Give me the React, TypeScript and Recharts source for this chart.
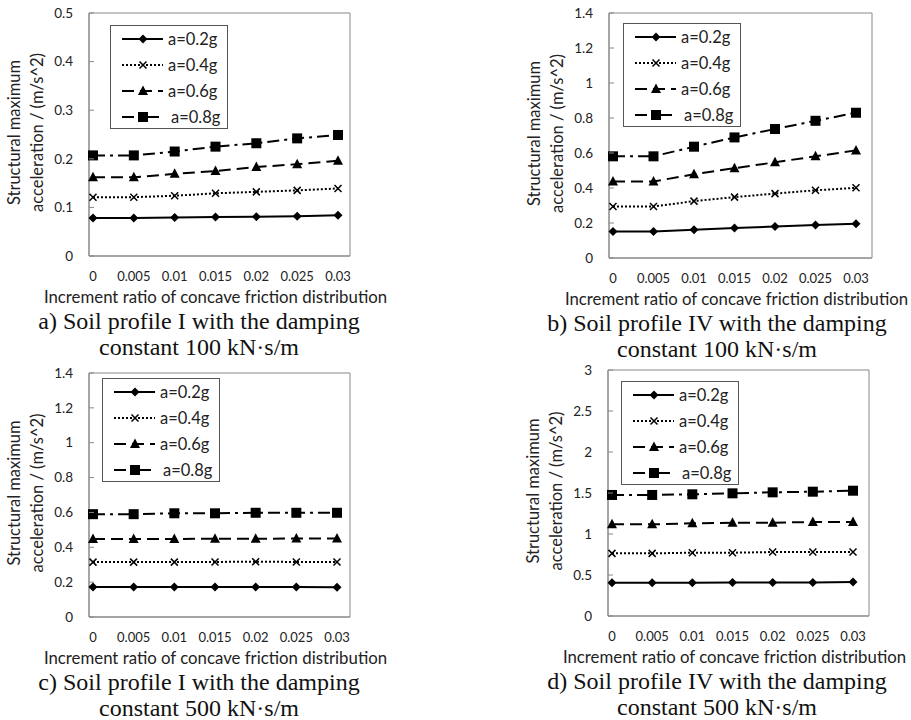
import React from 'react';
import { LineChart, Line, XAxis, YAxis, CartesianGrid, Legend, Label } from 'recharts';

const ratios = [0, 0.005, 0.01, 0.015, 0.02, 0.025, 0.03];
const seriesNames = ['a=0.2g', 'a=0.4g', 'a=0.6g', 'a=0.8g'];

// a) soil profile I, damping 100
const a02 = [0.078, 0.078, 0.079, 0.080, 0.081, 0.082, 0.084];
const a04 = [0.121, 0.121, 0.124, 0.129, 0.132, 0.135, 0.139];
const a06 = [0.162, 0.162, 0.169, 0.175, 0.183, 0.189, 0.196];
const a08 = [0.207, 0.207, 0.215, 0.225, 0.232, 0.242, 0.249];
// b) soil profile IV, damping 100
const b02 = [0.152, 0.152, 0.161, 0.171, 0.180, 0.188, 0.196];
const b04 = [0.294, 0.294, 0.325, 0.348, 0.368, 0.387, 0.401];
const b06 = [0.437, 0.437, 0.479, 0.513, 0.547, 0.581, 0.615];
const b08 = [0.581, 0.581, 0.636, 0.689, 0.737, 0.784, 0.830];
// c) soil profile I, damping 500
const c02 = [0.172, 0.172, 0.172, 0.172, 0.172, 0.172, 0.171];
const c04 = [0.315, 0.315, 0.315, 0.316, 0.317, 0.316, 0.316];
const c06 = [0.448, 0.448, 0.448, 0.449, 0.449, 0.450, 0.450];
const c08 = [0.590, 0.590, 0.595, 0.595, 0.598, 0.598, 0.598];
// d) soil profile IV, damping 500
const d02 = [0.405, 0.405, 0.405, 0.410, 0.410, 0.410, 0.415];
const d04 = [0.764, 0.764, 0.772, 0.772, 0.780, 0.780, 0.780];
const d06 = [1.118, 1.118, 1.130, 1.138, 1.138, 1.146, 1.146];
const d08 = [1.476, 1.476, 1.484, 1.496, 1.508, 1.516, 1.528];

const ticksA = [0, 0.1, 0.2, 0.3, 0.4, 0.5];
const ticksB = [0, 0.2, 0.4, 0.6, 0.8, 1, 1.2, 1.4];
const ticksD = [0, 0.5, 1, 1.5, 2, 2.5, 3];

const SANS = 'Lato, "Open Sans", sans-serif';
const AXIS_GREY = '#888';
const Y_AXIS_W = 89;
const TOP = 13;
const RIGHT_M = 60;

const styles = [
  { dash: undefined, marker: 'diamond' },
  { dash: '2 2', marker: 'cross' },
  { dash: '12 6', marker: 'triangle' },
  { dash: '12 5 3 5', marker: 'square' },
];

function Marker({ kind, cx, cy }: { kind: string; cx: number; cy: number }) {
  if (kind === 'diamond') {
    return <path d={`M${cx},${cy - 4.5}L${cx + 4.5},${cy}L${cx},${cy + 4.5}L${cx - 4.5},${cy}Z`} fill="#000" />;
  }
  if (kind === 'cross') {
    return (
      <path
        d={`M${cx - 3.5},${cy - 3.5}L${cx + 3.5},${cy + 3.5}M${cx - 3.5},${cy + 3.5}L${cx + 3.5},${cy - 3.5}`}
        stroke="#000"
        strokeWidth={1.5}
        fill="none"
      />
    );
  }
  if (kind === 'triangle') {
    return <path d={`M${cx},${cy - 5.5}L${cx + 5},${cy + 4}L${cx - 5},${cy + 4}Z`} fill="#000" />;
  }
  return <rect x={cx - 5} y={cy - 5} width={10} height={10} fill="#000" />;
}

const dotFor = (kind: string) => (p: any) => <Marker key={p.index} kind={kind} cx={p.cx} cy={p.cy} />;

function LegendBox() {
  const rows = [14, 40, 66, 92];
  return (
    <svg width={118} height={104} style={{ display: 'block' }}>
      <rect x={0.5} y={0.5} width={117} height={103} fill="#fff" stroke="#555" />
      {styles.map((s, i) => (
        <g key={i}>
          <line x1={12} x2={53} y1={rows[i]} y2={rows[i]} stroke="#000" strokeWidth={2} strokeDasharray={s.dash} />
          <Marker kind={s.marker} cx={33} cy={rows[i]} />
          <text x={i === 3 ? 61 : 58} y={rows[i]} dy="0.35em" fontFamily={SANS} fontSize={16.5} fill="#222">
            {seriesNames[i]}
          </text>
        </g>
      ))}
    </svg>
  );
}

const YTick = (p: any) => (
  <g>
    <line x1={Y_AXIS_W} x2={Y_AXIS_W + 5} y1={p.y} y2={p.y} stroke={AXIS_GREY} />
    <text x={Y_AXIS_W - 16} y={p.y} dy="0.35em" textAnchor="end" fontFamily={SANS} fontSize={13.5} fill="#222">
      {p.payload.value}
    </text>
  </g>
);

interface PanelProps {
  left: number;
  top: number;
  plotW: number;
  plotH: number;
  series: number[][];
  yMax: number;
  yTicks: number[];
  padRight: number;
  legendAt: [number, number];
  caption: string[];
  captionCx: number;
}

function Panel({ left, top, plotW, plotH, series, yMax, yTicks, padRight, legendAt, caption, captionCx }: PanelProps) {
  const data = ratios.map((r, i) => ({ x: r, s0: series[0][i], s1: series[1][i], s2: series[2][i], s3: series[3][i] }));
  const width = Y_AXIS_W + plotW + RIGHT_M;
  const height = TOP + plotH + 54;
  const plotBottom = top + TOP + plotH;
  return (
    <>
      <div style={{ position: 'absolute', left, top }}>
        <LineChart width={width} height={height} data={data} margin={{ top: TOP, right: RIGHT_M, left: 0, bottom: 0 }}>
          <CartesianGrid
            stroke={AXIS_GREY}
            horizontalCoordinatesGenerator={({ offset }: any) => [offset.top, offset.top + offset.height]}
            verticalCoordinatesGenerator={({ offset }: any) => [offset.left, offset.left + offset.width]}
          />
          <XAxis
            dataKey="x"
            type="number"
            domain={[0, 0.03]}
            ticks={ratios}
            padding={{ left: 4, right: padRight }}
            height={54}
            tickLine={false}
            tickMargin={10}
            axisLine={{ stroke: AXIS_GREY }}
            tick={{ fontFamily: SANS, fontSize: 13, fill: '#222' }}
          >
            <Label
              content={({ viewBox }: any) => (
                <text
                  x={viewBox.x + viewBox.width / 2 - 4}
                  y={viewBox.y + 41}
                  dy="0.35em"
                  textAnchor="middle"
                  fontFamily={SANS}
                  fontSize={16.8}
                  fill="#222"
                >
                  Increment ratio of concave friction distribution
                </text>
              )}
            />
          </XAxis>
          <YAxis
            type="number"
            domain={[0, yMax]}
            ticks={yTicks}
            width={Y_AXIS_W}
            tickLine={false}
            axisLine={{ stroke: AXIS_GREY }}
            tick={<YTick />}
          >
            <Label
              content={({ viewBox }: any) => {
                const cy = viewBox.y + viewBox.height / 2 - 2;
                return (
                  <g fontFamily={SANS} fontSize={16.5} fill="#222">
                    <text x={14} y={cy} textAnchor="middle" dy="0.35em" transform={`rotate(-90 14 ${cy})`}>
                      Structural maximum
                    </text>
                    <text x={37} y={cy} textAnchor="middle" dy="0.35em" transform={`rotate(-90 37 ${cy})`}>
                      acceleration / (m/s^2)
                    </text>
                  </g>
                );
              }}
            />
          </YAxis>
          <Legend
            layout="horizontal"
            verticalAlign="middle"
            align="center"
            wrapperStyle={{ left: Y_AXIS_W + legendAt[0], top: TOP + legendAt[1], width: 118, height: 104 }}
            content={() => <LegendBox />}
          />
          {styles.map((s, i) => (
            <Line
              key={i}
              dataKey={`s${i}`}
              type="linear"
              stroke="#000"
              strokeWidth={2}
              strokeDasharray={s.dash}
              dot={dotFor(s.marker)}
              activeDot={false}
              isAnimationActive={false}
            />
          ))}
        </LineChart>
      </div>
      {caption.map((c, i) => (
        <div
          key={i}
          style={{
            position: 'absolute',
            left: captionCx - 230,
            width: 460,
            top: plotBottom + 53 + i * 25.5,
            height: 24,
            textAlign: 'center',
            fontFamily: '"Liberation Serif", "Times New Roman", serif',
            fontSize: 24,
            lineHeight: '24px',
            color: '#111',
            whiteSpace: 'nowrap',
          }}
        >
          {c}
        </div>
      ))}
    </>
  );
}

export default function App() {
  return (
    <div style={{ position: 'absolute', left: 0, top: 0, width: 911, height: 720, background: '#fff', overflow: 'hidden' }}>
      <Panel
        left={0}
        top={0}
        plotW={261}
        plotH={243}
        series={[a02, a04, a06, a08]}
        yMax={0.5}
        yTicks={ticksA}
        padRight={12}
        legendAt={[21, 12]}
        caption={['a) Soil profile I with the damping', 'constant 100 kN·s/m']}
        captionCx={199}
      />
      <Panel
        left={609 - Y_AXIS_W}
        top={0}
        plotW={263}
        plotH={245}
        series={[b02, b04, b06, b08]}
        yMax={1.4}
        yTicks={ticksB}
        padRight={16}
        legendAt={[14, 10]}
        caption={['b) Soil profile IV with the damping', 'constant 100 kN·s/m']}
        captionCx={717}
      />
      <Panel
        left={0}
        top={373 - TOP}
        plotW={261}
        plotH={244}
        series={[c02, c04, c06, c08]}
        yMax={1.4}
        yTicks={ticksB}
        padRight={13}
        legendAt={[13, 5]}
        caption={['c) Soil profile I with the damping', 'constant 500 kN·s/m']}
        captionCx={199}
      />
      <Panel
        left={608 - Y_AXIS_W}
        top={370 - TOP}
        plotW={261}
        plotH={246}
        series={[d02, d04, d06, d08]}
        yMax={3}
        yTicks={ticksD}
        padRight={16}
        legendAt={[13, 11]}
        caption={['d) Soil profile IV with the damping', 'constant 500 kN·s/m']}
        captionCx={717}
      />
    </div>
  );
}
